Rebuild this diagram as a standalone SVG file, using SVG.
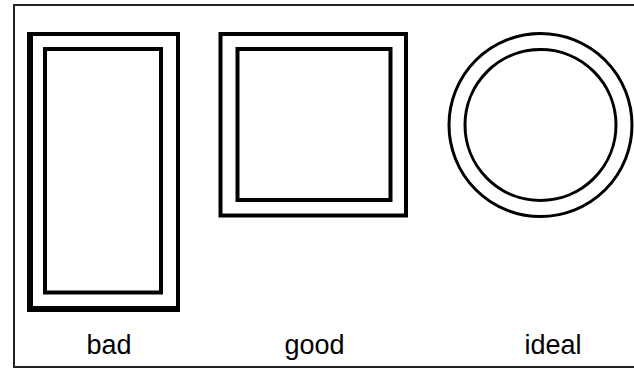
<svg xmlns="http://www.w3.org/2000/svg" width="634" height="368" viewBox="0 0 634 368">
<style>
.ln{fill:none;stroke:#000;stroke-width:4}
.cl{fill:none;stroke:#000;stroke-width:3}
.lb{font-family:"Liberation Sans",Arial,sans-serif;font-size:27px;fill:#000;text-anchor:middle}
</style>
<rect x="0" y="0" width="634" height="368" fill="#fff"/>
<rect x="14" y="5" width="640" height="362" fill="none" stroke="#222" stroke-width="2"/>
<g id="bad">
<rect class="ln" x="31" y="34" width="147" height="274"/>
<rect x="27" y="32" width="4" height="280" fill="#000"/>
<rect x="27" y="308" width="153" height="4" fill="#000"/>
<rect class="ln" x="45" y="49" width="116" height="243.5"/>
<text class="lb" x="109" y="354">bad</text>
</g>
<g id="good">
<rect class="ln" x="220.5" y="34" width="185.5" height="181.5"/>
<rect class="ln" x="237.5" y="49" width="153" height="151"/>
<text class="lb" x="314.5" y="354">good</text>
</g>
<g id="ideal">
<circle class="cl" cx="540.5" cy="125" r="91.5"/>
<circle class="cl" cx="540.5" cy="125" r="75.5"/>
<text class="lb" x="553" y="354">ideal</text>
</g>
<g id="connectors"></g>
</svg>
